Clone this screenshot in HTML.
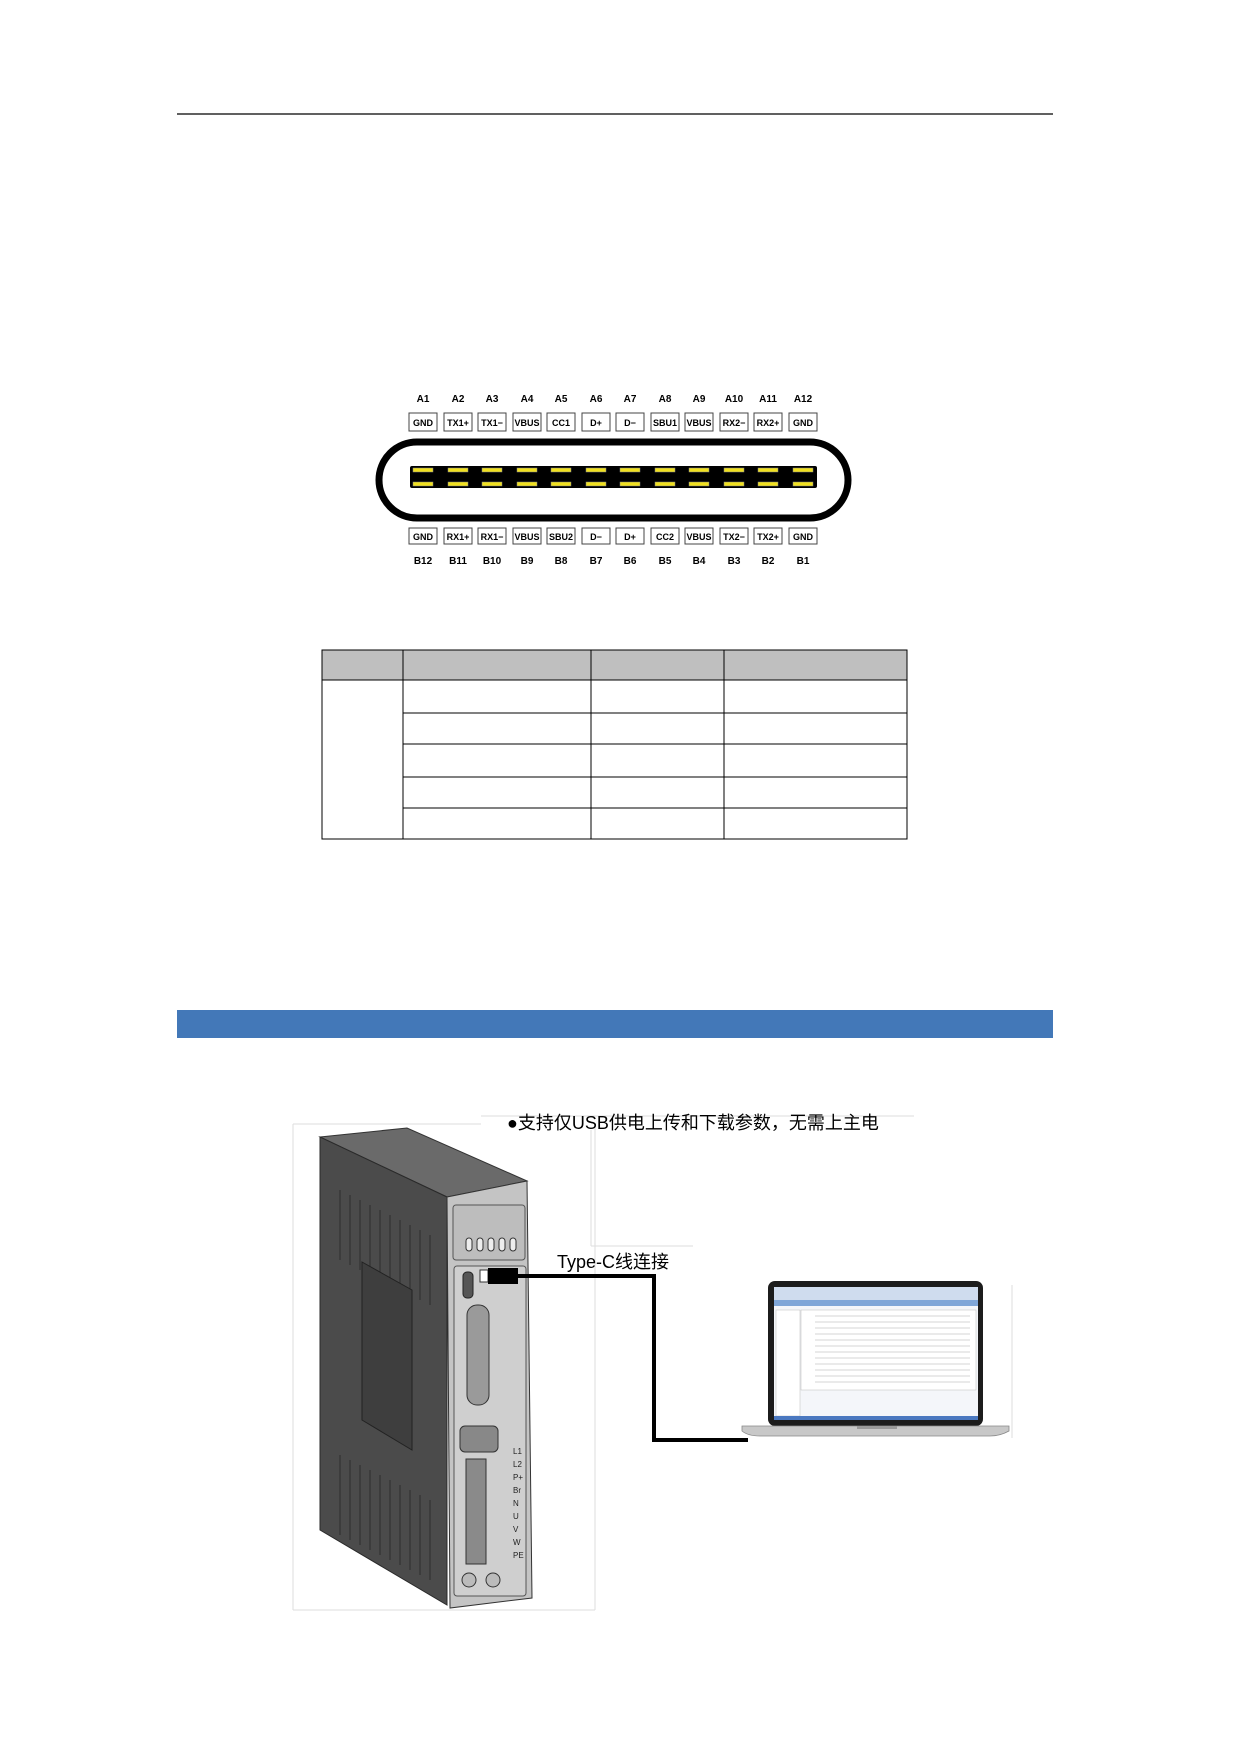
<!DOCTYPE html>
<html><head><meta charset="utf-8"><style>
html,body{margin:0;padding:0;background:#fff}
svg{display:block}
text{font-family:"Liberation Sans","Noto Sans CJK SC",sans-serif}
</style></head><body>
<svg width="1240" height="1754" viewBox="0 0 1240 1754" xmlns="http://www.w3.org/2000/svg">
<rect width="1240" height="1754" fill="#fff"/>
<line x1="177" y1="114" x2="1053" y2="114" stroke="#000" stroke-width="1.2"/>

<!-- Type-C connector -->
<rect x="379" y="442" width="469" height="76" rx="38" fill="none" stroke="#000" stroke-width="7"/>
<rect x="410" y="466" width="407" height="22" rx="2" fill="#000"/>
<g fill="#f0e020" stroke="#888" stroke-width="0.5">
<rect x="413" y="468" width="20" height="4"/><rect x="413" y="482" width="20" height="4"/>
<rect x="448" y="468" width="20" height="4"/><rect x="448" y="482" width="20" height="4"/>
<rect x="482" y="468" width="20" height="4"/><rect x="482" y="482" width="20" height="4"/>
<rect x="517" y="468" width="20" height="4"/><rect x="517" y="482" width="20" height="4"/>
<rect x="551" y="468" width="20" height="4"/><rect x="551" y="482" width="20" height="4"/>
<rect x="586" y="468" width="20" height="4"/><rect x="586" y="482" width="20" height="4"/>
<rect x="620" y="468" width="20" height="4"/><rect x="620" y="482" width="20" height="4"/>
<rect x="655" y="468" width="20" height="4"/><rect x="655" y="482" width="20" height="4"/>
<rect x="689" y="468" width="20" height="4"/><rect x="689" y="482" width="20" height="4"/>
<rect x="724" y="468" width="20" height="4"/><rect x="724" y="482" width="20" height="4"/>
<rect x="758" y="468" width="20" height="4"/><rect x="758" y="482" width="20" height="4"/>
<rect x="793" y="468" width="20" height="4"/><rect x="793" y="482" width="20" height="4"/>
</g>
<g font-family="Liberation Serif, serif" font-weight="bold" font-size="10" text-anchor="middle" fill="#000">
<text x="423" y="402">A1</text><text x="458" y="402">A2</text><text x="492" y="402">A3</text><text x="527" y="402">A4</text><text x="561" y="402">A5</text><text x="596" y="402">A6</text><text x="630" y="402">A7</text><text x="665" y="402">A8</text><text x="699" y="402">A9</text><text x="734" y="402">A10</text><text x="768" y="402">A11</text><text x="803" y="402">A12</text>
<text x="423" y="564">B12</text><text x="458" y="564">B11</text><text x="492" y="564">B10</text><text x="527" y="564">B9</text><text x="561" y="564">B8</text><text x="596" y="564">B7</text><text x="630" y="564">B6</text><text x="665" y="564">B5</text><text x="699" y="564">B4</text><text x="734" y="564">B3</text><text x="768" y="564">B2</text><text x="803" y="564">B1</text>
</g>
<g fill="#fff" stroke="#444" stroke-width="1">
<rect x="409" y="413" width="28" height="18"/><rect x="444" y="413" width="28" height="18"/><rect x="478" y="413" width="28" height="18"/><rect x="513" y="413" width="28" height="18"/><rect x="547" y="413" width="28" height="18"/><rect x="582" y="413" width="28" height="18"/><rect x="616" y="413" width="28" height="18"/><rect x="651" y="413" width="28" height="18"/><rect x="685" y="413" width="28" height="18"/><rect x="720" y="413" width="28" height="18"/><rect x="754" y="413" width="28" height="18"/><rect x="789" y="413" width="28" height="18"/>
<rect x="409" y="528" width="28" height="16"/><rect x="444" y="528" width="28" height="16"/><rect x="478" y="528" width="28" height="16"/><rect x="513" y="528" width="28" height="16"/><rect x="547" y="528" width="28" height="16"/><rect x="582" y="528" width="28" height="16"/><rect x="616" y="528" width="28" height="16"/><rect x="651" y="528" width="28" height="16"/><rect x="685" y="528" width="28" height="16"/><rect x="720" y="528" width="28" height="16"/><rect x="754" y="528" width="28" height="16"/><rect x="789" y="528" width="28" height="16"/>
</g>
<g font-family="Liberation Serif, serif" font-weight="bold" font-size="9" text-anchor="middle" fill="#000">
<text x="423" y="426">GND</text><text x="458" y="426">TX1+</text><text x="492" y="426">TX1−</text><text x="527" y="426">VBUS</text><text x="561" y="426">CC1</text><text x="596" y="426">D+</text><text x="630" y="426">D−</text><text x="665" y="426">SBU1</text><text x="699" y="426">VBUS</text><text x="734" y="426">RX2−</text><text x="768" y="426">RX2+</text><text x="803" y="426">GND</text>
<text x="423" y="540">GND</text><text x="458" y="540">RX1+</text><text x="492" y="540">RX1−</text><text x="527" y="540">VBUS</text><text x="561" y="540">SBU2</text><text x="596" y="540">D−</text><text x="630" y="540">D+</text><text x="665" y="540">CC2</text><text x="699" y="540">VBUS</text><text x="734" y="540">TX2−</text><text x="768" y="540">TX2+</text><text x="803" y="540">GND</text>
</g>

<!-- Table -->
<rect x="322" y="650" width="585" height="30" fill="#bfbfbf"/>
<g stroke="#000" stroke-width="1" fill="none">
<rect x="322" y="650" width="585" height="189"/>
<line x1="322" y1="680" x2="907" y2="680"/>
<line x1="403" y1="713" x2="907" y2="713"/>
<line x1="403" y1="744" x2="907" y2="744"/>
<line x1="403" y1="777" x2="907" y2="777"/>
<line x1="403" y1="808" x2="907" y2="808"/>
<line x1="403" y1="650" x2="403" y2="839"/>
<line x1="591" y1="650" x2="591" y2="839"/>
<line x1="724" y1="650" x2="724" y2="839"/>
</g>

<!-- Blue bar -->
<rect x="177" y="1010" width="876" height="28" fill="#4378b8"/>

<!-- Picture frames -->
<g stroke="#ddd" stroke-width="1" fill="none">
<line x1="293" y1="1124" x2="481" y2="1124"/>
<line x1="293" y1="1124" x2="293" y2="1610"/>
<line x1="293" y1="1610" x2="595" y2="1610"/>
<line x1="595" y1="1127" x2="595" y2="1610"/>
<line x1="481" y1="1116" x2="914" y2="1116"/>
<line x1="591" y1="1130" x2="591" y2="1246"/>
<line x1="591" y1="1246" x2="693" y2="1246"/>
<line x1="1012" y1="1285" x2="1012" y2="1438"/>
</g>
<text x="507" y="1129" font-size="18" fill="#000">●支持仅USB供电上传和下载参数，无需上主电</text>
<text x="557" y="1268" font-size="18" fill="#000">Type-C线连接</text>

<!-- Device -->
<polygon points="320,1137 407,1128 527,1181 447,1197" fill="#6a6a6a" stroke="#333"/>
<polygon points="320,1137 447,1197 447,1605 320,1530" fill="#4b4b4b" stroke="#2a2a2a"/>
<polygon points="447,1197 527,1181 532,1598 450,1608" fill="#c4c4c4" stroke="#333"/>
<rect x="453" y="1205" width="72" height="55" rx="3" fill="#bdbdbd" stroke="#555"/>
<g fill="#eee" stroke="#333"><rect x="466" y="1238" width="6" height="13" rx="3"/><rect x="477" y="1238" width="6" height="13" rx="3"/><rect x="488" y="1238" width="6" height="13" rx="3"/><rect x="499" y="1238" width="6" height="13" rx="3"/><rect x="510" y="1238" width="6" height="13" rx="3"/></g>
<rect x="454" y="1266" width="72" height="330" rx="3" fill="#cfcfcf" stroke="#555"/>
<rect x="463" y="1272" width="10" height="26" rx="4" fill="#555" stroke="#222"/>
<rect x="467" y="1305" width="22" height="100" rx="10" fill="#9a9a9a" stroke="#333"/>
<rect x="460" y="1426" width="38" height="26" rx="5" fill="#888" stroke="#333"/>
<rect x="466" y="1459" width="20" height="105" fill="#8a8a8a" stroke="#333"/>
<circle cx="469" cy="1580" r="7" fill="#bbb" stroke="#333"/><circle cx="493" cy="1580" r="7" fill="#bbb" stroke="#333"/>
<g stroke="#333" stroke-width="1.2" fill="none">
<line x1="340" y1="1190" x2="340" y2="1260"/><line x1="350" y1="1195" x2="350" y2="1265"/><line x1="360" y1="1200" x2="360" y2="1270"/><line x1="370" y1="1205" x2="370" y2="1275"/><line x1="380" y1="1210" x2="380" y2="1280"/><line x1="390" y1="1215" x2="390" y2="1285"/><line x1="400" y1="1220" x2="400" y2="1290"/><line x1="410" y1="1225" x2="410" y2="1295"/><line x1="420" y1="1230" x2="420" y2="1300"/><line x1="430" y1="1235" x2="430" y2="1305"/>
<line x1="340" y1="1455" x2="340" y2="1535"/><line x1="350" y1="1460" x2="350" y2="1540"/><line x1="360" y1="1465" x2="360" y2="1545"/><line x1="370" y1="1470" x2="370" y2="1550"/><line x1="380" y1="1475" x2="380" y2="1555"/><line x1="390" y1="1480" x2="390" y2="1560"/><line x1="400" y1="1485" x2="400" y2="1565"/><line x1="410" y1="1490" x2="410" y2="1570"/><line x1="420" y1="1495" x2="420" y2="1575"/><line x1="430" y1="1500" x2="430" y2="1580"/>
</g>
<polygon points="362,1262 412,1290 412,1450 362,1420" fill="#3e3e3e" stroke="#222"/>
<g font-size="8" fill="#222"><text x="513" y="1454">L1</text><text x="513" y="1467">L2</text><text x="513" y="1480">P+</text><text x="513" y="1493">Br</text><text x="513" y="1506">N</text><text x="513" y="1519">U</text><text x="513" y="1532">V</text><text x="513" y="1545">W</text><text x="513" y="1558">PE</text></g>

<!-- cable -->
<rect x="480" y="1270" width="8" height="12" fill="#fff" stroke="#333"/>
<rect x="488" y="1268" width="30" height="16" fill="#000"/>
<polyline points="518,1276 654,1276 654,1440 748,1440" fill="none" stroke="#000" stroke-width="4"/>

<!-- laptop -->
<rect x="768" y="1281" width="215" height="145" rx="7" fill="#1c1c1c"/>
<rect x="774" y="1287" width="204" height="133" fill="#f4f6fa"/>
<rect x="774" y="1287" width="204" height="13" fill="#cfdcee"/>
<rect x="774" y="1300" width="204" height="6" fill="#7fa6d8"/>
<rect x="776" y="1310" width="24" height="106" fill="#fff" stroke="#bbb" stroke-width="0.5"/>
<rect x="801" y="1310" width="175" height="80" fill="#fff" stroke="#bbb" stroke-width="0.5"/>
<g stroke="#aaa" stroke-width="0.6">
<line x1="815" y1="1316" x2="970" y2="1316"/><line x1="815" y1="1322" x2="970" y2="1322"/><line x1="815" y1="1328" x2="970" y2="1328"/><line x1="815" y1="1334" x2="970" y2="1334"/><line x1="815" y1="1340" x2="970" y2="1340"/><line x1="815" y1="1346" x2="970" y2="1346"/><line x1="815" y1="1352" x2="970" y2="1352"/><line x1="815" y1="1358" x2="970" y2="1358"/><line x1="815" y1="1364" x2="970" y2="1364"/><line x1="815" y1="1370" x2="970" y2="1370"/><line x1="815" y1="1376" x2="970" y2="1376"/><line x1="815" y1="1382" x2="970" y2="1382"/>
</g>
<rect x="774" y="1416" width="204" height="4" fill="#4a78c0"/>
<path d="M742,1426 H1009 V1431 Q1000,1436 990,1436 H760 Q748,1436 742,1431 Z" fill="#c8c8c8" stroke="#888" stroke-width="0.8"/>
<rect x="857" y="1426" width="40" height="3" fill="#999"/>
</svg>
</body></html>
